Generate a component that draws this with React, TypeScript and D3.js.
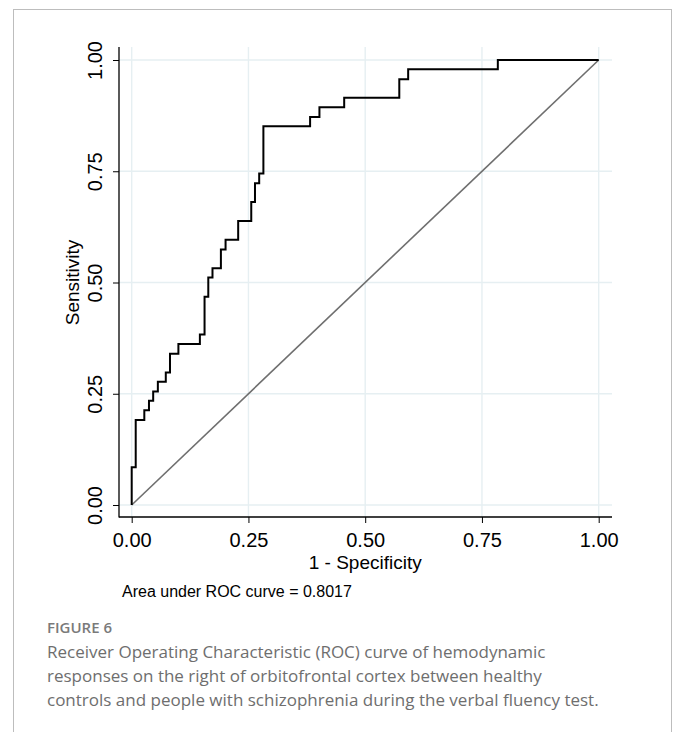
import React, { useEffect, useRef } from 'react';
import * as d3 from 'd3';

// ROC curve (1 - specificity, sensitivity at each step)
const fpr = [0, 0.0086, 0.027, 0.037, 0.046, 0.056, 0.073, 0.082, 0.1, 0.146, 0.156, 0.164, 0.173, 0.191, 0.201, 0.228, 0.256, 0.264, 0.273, 0.282, 0.382, 0.402, 0.455, 0.573, 0.592, 0.784, 1.0];
const tpr = [0, 0.085, 0.191, 0.213, 0.234, 0.255, 0.277, 0.298, 0.34, 0.362, 0.383, 0.468, 0.511, 0.532, 0.574, 0.596, 0.638, 0.681, 0.723, 0.745, 0.851, 0.872, 0.894, 0.915, 0.957, 0.979, 1.0];
const refLine = [0, 1];
const xTicks = [0, 0.25, 0.5, 0.75, 1];
const yTicks = [0, 0.25, 0.5, 0.75, 1];
const captionLines = [
    'Receiver Operating Characteristic (ROC) curve of hemodynamic',
    'responses on the right of orbitofrontal cortex between healthy',
    'controls and people with schizophrenia during the verbal fluency test.',
];

const App = () => {
    const ref = useRef<SVGSVGElement>(null);

    useEffect(() => {
        const svg = d3.select(ref.current);
        svg.selectAll('*').remove();
        const font = '"Liberation Sans", Arial, Helvetica, sans-serif';

        // frame around the figure
        svg.append('rect')
            .attr('x', 13.5).attr('y', 9.5)
            .attr('width', 658).attr('height', 760)
            .attr('fill', 'none')
            .attr('stroke', '#bdbdbd');

        const x = d3.scaleLinear().domain([0, 1]).range([131.7, 598.7]);
        const y = d3.scaleLinear().domain([0, 1]).range([505, 60]);
        const left = 119, right = 612, top = 47, bottom = 517;
        const fmt = d3.format('.2f');

        // grid
        const grid = svg.append('g').attr('stroke', '#e6eff2').attr('stroke-width', 1.4);
        grid.selectAll('.gx').data(xTicks).enter().append('line')
            .attr('x1', d => x(d)).attr('x2', d => x(d))
            .attr('y1', top).attr('y2', bottom);
        grid.selectAll('.gy').data(yTicks).enter().append('line')
            .attr('x1', left).attr('x2', right)
            .attr('y1', d => y(d)).attr('y2', d => y(d));

        // axes
        const xAxis = svg.append('g')
            .attr('transform', `translate(0, ${bottom})`)
            .call(d3.axisBottom(x).tickValues(xTicks).tickFormat(d => fmt(+d)).tickSize(6).tickPadding(4));
        xAxis.select('.domain').remove();
        xAxis.selectAll('line').attr('stroke', '#000').attr('stroke-width', 1);
        xAxis.selectAll('text')
            .attr('font-family', font).attr('font-size', 20).attr('fill', '#000')
            .attr('dy', null).attr('y', 30);

        const yAxis = svg.append('g')
            .attr('transform', `translate(${left}, 0)`)
            .call(d3.axisLeft(y).tickValues(yTicks).tickFormat(d => fmt(+d)).tickSize(6));
        yAxis.select('.domain').remove();
        yAxis.selectAll('line').attr('stroke', '#000').attr('stroke-width', 1);
        yAxis.selectAll('text')
            .attr('font-family', font).attr('font-size', 20).attr('fill', '#000')
            .attr('x', null).attr('dy', null)
            .attr('text-anchor', 'middle')
            .attr('transform', 'translate(-17, 0) rotate(-90)');

        svg.append('line')
            .attr('x1', left).attr('x2', left).attr('y1', top).attr('y2', bottom + 0.5)
            .attr('stroke', '#000').attr('stroke-width', 1.3);
        svg.append('line')
            .attr('x1', left).attr('x2', right).attr('y1', bottom).attr('y2', bottom)
            .attr('stroke', '#000').attr('stroke-width', 1.3);

        // reference diagonal
        svg.append('path')
            .datum(refLine)
            .attr('d', d3.line<number>().x(d => x(d)).y(d => y(d)))
            .attr('fill', 'none')
            .attr('stroke', '#6f6f6f')
            .attr('stroke-width', 1.6);

        // ROC curve
        const pts = fpr.map((f, i) => [f, tpr[i]] as [number, number]);
        svg.append('path')
            .datum(pts)
            .attr('d', d3.line().x(d => x(d[0])).y(d => y(d[1])).curve(d3.curveStepBefore))
            .attr('fill', 'none')
            .attr('stroke', '#000')
            .attr('stroke-width', 2);

        // titles
        svg.append('text')
            .attr('x', x(0.5)).attr('y', 569)
            .attr('text-anchor', 'middle')
            .attr('font-family', font).attr('font-size', 19)
            .text('1 - Specificity');
        svg.append('text')
            .attr('transform', `translate(79, ${y(0.5)}) rotate(-90)`)
            .attr('text-anchor', 'middle')
            .attr('font-family', font).attr('font-size', 19)
            .text('Sensitivity');
        svg.append('text')
            .attr('x', 122).attr('y', 597)
            .attr('font-family', font).attr('font-size', 16)
            .text('Area under ROC curve = 0.8017');

        // caption
        svg.append('text')
            .attr('x', 47).attr('y', 633)
            .attr('font-family', '"Open Sans", sans-serif').attr('font-size', 15)
            .attr('font-weight', 600).attr('fill', '#7a7a7a')
            .text('FIGURE 6');
        svg.selectAll('.cap').data(captionLines).enter().append('text')
            .attr('x', 47).attr('y', (d, i) => 658 + i * 24)
            .attr('font-family', '"Open Sans", sans-serif').attr('font-size', 17)
            .attr('fill', '#6e6e6e')
            .text(d => d);
    }, []);

    return (
        <svg ref={ref} width={677} height={732}
            style={{ position: 'absolute', left: 0, top: 0, background: '#fff' }} />
    );
};

export default App;
